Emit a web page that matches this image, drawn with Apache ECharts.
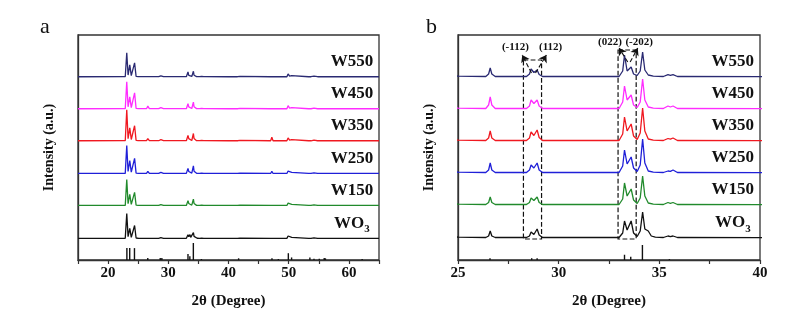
<!DOCTYPE html>
<html>
<head>
<meta charset="utf-8">
<script src="https://cdn.jsdelivr.net/npm/echarts@6/dist/echarts.min.js"></script>
<style>
  html, body { margin: 0; padding: 0; background: #fff; }
  #chart { width: 794px; height: 321px; }
</style>
</head>
<body>
<div id="chart"></div>
<script>
// XRD patterns of WO3 and the W-series samples, intensity in arbitrary units (a.u.)
const SAMPLES = ['W550', 'W450', 'W350', 'W250', 'W150', 'WO3'];

const W550 = [[15,0.3],[22.85,0.5],[23.1,108],[23.32,8],[23.6,54],[23.85,5],[24.05,3],[24.4,63],[24.65,2],[25,0.8],
  [26.38,0.5],[26.52,3],[26.6,9],[26.68,3],[26.85,0.5],
  [28.4,0.5],[28.55,3],[28.63,8],[28.77,4.5],[28.93,7],[29.03,2.5],[29.2,0.5],
  [33,0.5],[33.18,6],[33.27,22],[33.4,6],[33.6,10],[33.72,3],[33.9,1.5],[34.05,6],[34.17,25],[34.28,7],[34.45,2],[34.7,0.8],
  [35.2,0.5],[35.43,2.3],[35.55,1.6],[35.68,2.3],[35.9,0.5],[40,0.3],
  [41.5,0.3],[41.7,5],[41.9,2],[42.1,0.3],[47,0.3],[47.2,9],[47.4,0.3],[48.1,0.3],[48.3,3],[48.5,0.3],
  [49.7,0.3],[49.9,13],[50.15,3],[50.5,5],[50.8,0.3],[53.3,0.3],[53.5,4],[53.7,0.3],[54,0.3],[54.2,3],[54.4,0.3],
  [54.8,0.3],[55,3],[55.2,0.3],[55.6,0.3],[55.9,6],[56.2,0.3],[62,0.3],[62.2,3],[62.4,0.3],[65,0.3]];

const W450 = [[15,0.3],[22.85,0.5],[23.1,122],[23.32,9],[23.6,54],[23.85,5],[24.05,3],[24.4,72],[24.65,2],[25,0.8],
  [26.38,0.5],[26.52,4],[26.6,12],[26.68,4],[26.85,0.5],
  [28.4,0.5],[28.55,3],[28.63,9],[28.77,5.5],[28.93,9],[29.03,3],[29.2,0.5],
  [33,0.5],[33.18,7],[33.27,23],[33.4,9],[33.6,14],[33.72,4],[33.9,1.5],[34.05,7],[34.17,30],[34.28,9],[34.45,2],[34.7,0.8],
  [35.2,0.5],[35.43,3],[35.55,2],[35.68,3],[35.9,0.5],[40,0.3],
  [41.5,0.3],[41.7,4],[41.9,1.6],[42.1,0.3],[47,0.3],[47.2,9],[47.4,0.3],[48.1,0.3],[48.3,3],[48.5,0.3],
  [49.7,0.3],[49.9,14],[50.15,3.5],[50.5,5],[50.8,0.3],[53.3,0.3],[53.5,3],[53.7,0.3],[54,0.3],[54.2,3],[54.4,0.3],
  [54.8,0.3],[55,3],[55.2,0.3],[55.6,0.3],[55.9,5],[56.2,0.3],[62,0.3],[62.2,3],[62.4,0.3],[65,0.3]];

const W350 = [[15,0.3],[22.85,0.5],[23.1,140],[23.32,10],[23.6,58],[23.85,6],[24.05,3],[24.4,68],[24.65,2],[25,0.8],
  [26.38,0.5],[26.52,3],[26.6,10],[26.68,3],[26.85,0.5],
  [28.4,0.5],[28.55,3],[28.63,9],[28.77,5.5],[28.93,11],[29.03,3.5],[29.2,0.5],
  [33,0.5],[33.18,7],[33.27,24],[33.4,10],[33.6,17],[33.72,5],[33.9,1.5],[34.05,8],[34.17,33],[34.28,10],[34.45,2],[34.7,0.8],
  [35.2,0.5],[35.43,2.5],[35.55,1.8],[35.68,3],[35.9,0.5],[40,0.3],
  [41.5,0.3],[41.7,5],[41.9,2],[42.1,0.3],[47,0.3],[47.2,16],[47.4,0.3],[48.1,0.3],[48.3,4],[48.5,0.3],
  [49.7,0.3],[49.9,13],[50.15,3],[50.5,5],[50.8,0.3],[53.3,0.3],[53.5,4],[53.7,0.3],[54,0.3],[54.2,3],[54.4,0.3],
  [54.8,0.3],[55,3],[55.2,0.3],[55.6,0.3],[55.9,5],[56.2,0.3],[62,0.3],[62.2,3],[62.4,0.3],[65,0.3]];

const W250 = [[15,0.3],[22.85,0.5],[23.1,126],[23.32,9],[23.6,58],[23.85,6],[24.05,3],[24.4,68],[24.65,2],[25,0.8],
  [26.38,0.5],[26.52,3],[26.6,10],[26.68,3],[26.85,0.5],
  [28.4,0.5],[28.55,3],[28.63,8],[28.77,5],[28.93,10],[29.03,3],[29.2,0.5],
  [33,0.5],[33.18,7],[33.27,23],[33.4,9],[33.6,16],[33.72,5],[33.9,1.5],[34.05,8],[34.17,34],[34.28,10],[34.45,2],[34.7,0.8],
  [35.2,0.5],[35.43,2],[35.55,1.6],[35.68,3],[35.9,0.5],[40,0.3],
  [41.5,0.3],[41.7,5],[41.9,2],[42.1,0.3],[47,0.3],[47.2,10],[47.4,0.3],[48.1,0.3],[48.3,3],[48.5,0.3],
  [49.7,0.3],[49.9,11],[50.15,3],[50.5,5],[50.8,0.3],[53.3,0.3],[53.5,4],[53.7,0.3],[54,0.3],[54.2,3],[54.4,0.3],
  [54.8,0.3],[55,3],[55.2,0.3],[55.6,0.3],[55.9,6],[56.2,0.3],[62,0.3],[62.2,3],[62.4,0.3],[65,0.3]];

const W150 = [[15,0.3],[22.85,0.5],[23.1,117],[23.32,8],[23.6,50],[23.85,5],[24.05,3],[24.4,59],[24.65,2],[25,0.8],
  [26.38,0.5],[26.52,2.5],[26.6,8],[26.68,2.5],[26.85,0.5],
  [28.4,0.5],[28.55,2.5],[28.63,7],[28.77,4.5],[28.93,8],[29.03,2.5],[29.2,0.5],
  [33,0.5],[33.18,6],[33.27,22],[33.4,9],[33.6,16],[33.72,5],[33.9,1.5],[34.05,7],[34.17,29],[34.28,9],[34.45,2],[34.7,0.8],
  [35.2,0.5],[35.43,2.5],[35.55,1.7],[35.68,2.5],[35.9,0.5],[40,0.3],
  [41.5,0.3],[41.7,4],[41.9,1.6],[42.1,0.3],[47,0.3],[47.2,9],[47.4,0.3],[48.1,0.3],[48.3,3],[48.5,0.3],
  [49.7,0.3],[49.9,11],[50.15,3],[50.5,5],[50.8,0.3],[53.3,0.3],[53.5,3],[53.7,0.3],[54,0.3],[54.2,3],[54.4,0.3],
  [54.8,0.3],[55,3],[55.2,0.3],[55.6,0.3],[55.9,6],[56.2,0.3],[62,0.3],[62.2,3],[62.4,0.3],[65,0.3]];

const WO3 = [[15,0.3],[22.85,0.5],[23.1,112],[23.32,8],[23.6,45],[23.85,5],[24.05,3],[24.4,58],[24.65,2],[25,0.8],
  [26.38,0.5],[26.52,2],[26.6,7],[26.68,2],[26.85,0.5],
  [28.4,0.5],[28.55,2],[28.63,6],[28.77,3.5],[28.93,9],[29.03,3],[29.2,0.5],
  [33,0.5],[33.18,5],[33.27,17],[33.4,8],[33.6,17],[33.72,5],[33.9,1.5],[34.05,7],[34.17,26],[34.28,9],[34.45,7],[34.6,2],[34.8,0.8],
  [35.2,0.5],[35.43,2],[35.55,1.4],[35.68,2],[35.9,0.5],[40,0.3],
  [41.5,0.3],[41.7,4],[41.9,1.6],[42.1,0.3],[47,0.3],[47.2,8],[47.4,0.3],[48.1,0.3],[48.3,3],[48.5,0.3],
  [49.7,0.3],[49.9,11],[50.15,3],[50.5,5],[50.8,0.3],[53.3,0.3],[53.5,3],[53.7,0.3],[54,0.3],[54.2,3],[54.4,0.3],
  [54.8,0.3],[55,3],[55.2,0.3],[55.6,0.3],[55.9,5],[56.2,0.3],[62,0.3],[62.2,3],[62.4,0.3],[65,0.3]];

const PATTERNS = [W550, W450, W350, W250, W150, WO3];

// Standard monoclinic WO3 reference lines: 2θ and relative intensity (%)
const REF_POS = [23.12, 23.59, 24.38, 26.59, 28.66, 28.93, 33.27, 33.58, 34.16, 35.5, 41.68, 47.22, 48.28, 49.94, 50.48, 53.52, 54.2, 55.08, 55.9, 56.1, 62.2];
const REF_INT = [70, 70, 70, 12, 12, 12, 35, 22, 100, 6, 10, 10, 6, 40, 15, 15, 8, 8, 12, 10, 6];

// Axis ticks
const TICKS_A = { min: 15, max: 65, step: 5, labelEvery: 10 };
const TICKS_B = { min: 25, max: 40, step: 2.5, labelEvery: 5 };

// Vertical stacking of the traces (intensity units of each panel)
const OFFSET_A = [824, 680, 536, 389, 245, 97];
const OFFSET_B = [183, 151, 119, 87, 55, 22];
const Y_MAX_A = 1012;
const Y_MAX_B = 225;
const REF_MAX_A = 1324;
const REF_MAX_B = 1500;

const COLORS = ['#2a2a72', '#ff2cff', '#f01820', '#2020d8', '#218a2c', '#111111'];

const SERIF = "'Liberation Serif', 'Times New Roman', serif";

const chart = echarts.init(document.getElementById('chart'), null, { renderer: 'canvas' });

function xAxis(gridIndex, t) {
  return {
    type: 'value', gridIndex, min: t.min, max: t.max, interval: t.step,
    name: '2θ (Degree)', nameLocation: 'middle', nameGap: 34,
    nameTextStyle: { fontFamily: SERIF, fontWeight: 'bold', fontSize: 15, color: '#111' },
    axisLine: { show: true, lineStyle: { color: '#333', width: 1.3 } },
    axisTick: { show: true, length: 4, lineStyle: { color: '#333', width: 1.2 } },
    axisLabel: {
      margin: 6, fontFamily: SERIF, fontWeight: 'bold', fontSize: 15, color: '#111',
      formatter: v => (Math.abs(v % t.labelEvery) < 1e-9 ? String(v) : '')
    },
    splitLine: { show: false }
  };
}

function yAxis(gridIndex, max, named) {
  return {
    type: 'value', gridIndex, min: 0, max,
    name: named ? 'Intensity (a.u.)' : '', nameLocation: 'middle', nameGap: 22, nameRotate: 90,
    nameTextStyle: { fontFamily: SERIF, fontWeight: 'bold', fontSize: 14, color: '#111' },
    axisLine: { show: named, lineStyle: { color: '#333', width: 1.3 } },
    axisTick: { show: false }, axisLabel: { show: false }, splitLine: { show: false }
  };
}

const labelRich = {
  n: { fontFamily: SERIF, fontWeight: 'bold', fontSize: 17, color: '#111' },
  s: { fontFamily: SERIF, fontWeight: 'bold', fontSize: 11, color: '#111', verticalAlign: 'bottom', padding: [12, 0, 0, 0] }
};
function sampleText(name) {
  return name === 'WO3' ? '{n|WO}{s|3}' : '{n|' + name + '}';
}

const series = [];
PATTERNS.forEach((pat, i) => {
  const name = SAMPLES[i];
  [[0, OFFSET_A, 60.5, 68], [1, OFFSET_B, 38.65, 15]].forEach(([p, off, lx, ly]) => {
    series.push({
      name: name + (p ? '-b' : '-a'),
      type: 'line', xAxisIndex: p, yAxisIndex: p * 2,
      data: pat.map(([x, y]) => [x, y + off[i]]),
      showSymbol: false, symbol: 'none', clip: true, silent: true,
      lineStyle: { color: COLORS[i], width: 1.3 },
      markPoint: {
        silent: true, symbol: 'rect', symbolSize: 1, itemStyle: { color: 'transparent' },
        label: { show: true, position: 'inside', formatter: sampleText(name), rich: labelRich },
        data: [{ coord: [lx, off[i] + ly] }]
      }
    });
  });
});

// Reference stick patterns under each panel
[0, 1].forEach(p => {
  series.push({
    name: 'ref-' + p, type: 'bar', xAxisIndex: p, yAxisIndex: p * 2 + 1,
    data: REF_POS.map((x, k) => [x, REF_INT[k]]),
    barWidth: 1.4, clip: true, silent: true,
    itemStyle: { color: '#111' }
  });
});

// Dashed boxes and arrows marking the split reflections in panel b
const annotLabel = { fontFamily: SERIF, fontWeight: 'bold', fontSize: 11, color: '#111' };
series.push({
  name: 'annot', type: 'line', xAxisIndex: 1, yAxisIndex: 2, data: [], silent: true,
  markArea: {
    silent: true,
    itemStyle: { color: 'rgba(0,0,0,0)', borderColor: '#111', borderWidth: 1.2, borderType: 'dashed' },
    label: { show: false },
    data: [
      [{ coord: [28.25, 200] }, { coord: [29.15, 21] }],
      [{ coord: [32.95, 210] }, { coord: [33.85, 21] }]
    ]
  },
  markLine: {
    silent: true, symbol: ['none', 'arrow'], symbolSize: 7,
    lineStyle: { type: 'dashed', color: '#111', width: 1.1 },
    label: { show: false },
    data: [
      [{ coord: [28.65, 187] }, { coord: [28.19, 205] }],
      [{ coord: [28.85, 187] }, { coord: [29.39, 205] }],
      [{ coord: [33.43, 198] }, { coord: [33.0, 212] }],
      [{ coord: [33.55, 198] }, { coord: [33.93, 212] }]
    ]
  },
  markPoint: {
    silent: true, symbol: 'rect', symbolSize: 1, itemStyle: { color: 'transparent' },
    label: { show: true, position: 'inside', formatter: p => p.name, ...annotLabel },
    data: [
      { name: '(-112)', coord: [27.85, 213] },
      { name: '(112)', coord: [29.6, 213] },
      { name: '(022)', coord: [32.55, 218] },
      { name: '(-202)', coord: [34.0, 218] }
    ]
  }
});

chart.setOption({
  animation: false,
  backgroundColor: '#fff',
  grid: [
    { left: 78, top: 35, width: 301, height: 225, show: true, borderColor: '#333', borderWidth: 1.3 },
    { left: 458, top: 35, width: 302, height: 225, show: true, borderColor: '#333', borderWidth: 1.3 }
  ],
  xAxis: [xAxis(0, TICKS_A), xAxis(1, TICKS_B)],
  yAxis: [
    yAxis(0, Y_MAX_A, true), yAxis(0, REF_MAX_A, false),
    yAxis(1, Y_MAX_B, true), yAxis(1, REF_MAX_B, false)
  ],
  graphic: [
    { type: 'text', left: 40, top: 16, style: { text: 'a', fontFamily: SERIF, fontSize: 22, fill: '#111' } },
    { type: 'text', left: 426, top: 16, style: { text: 'b', fontFamily: SERIF, fontSize: 22, fill: '#111' } }
  ],
  series
});
</script>
</body>
</html>
